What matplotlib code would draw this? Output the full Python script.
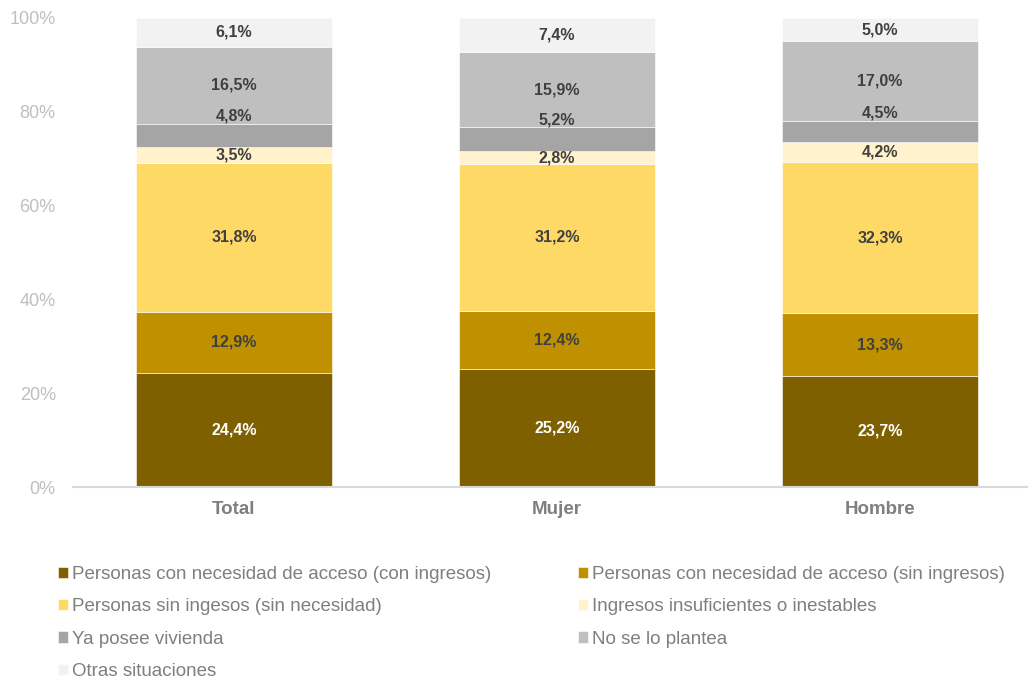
import matplotlib
matplotlib.use("Agg")
import matplotlib.pyplot as plt
import numpy as np

plt.rcParams["font.family"] = ["Liberation Sans", "DejaVu Sans"]

categories = ["Total", "Mujer", "Hombre"]
series_names = [
    "Personas con necesidad de acceso (con ingresos)",
    "Personas con necesidad de acceso (sin ingresos)",
    "Personas sin ingesos (sin necesidad)",
    "Ingresos insuficientes o inestables",
    "Ya posee vivienda",
    "No se lo plantea",
    "Otras situaciones",
]
con_ingresos = [24.4, 25.2, 23.7]
sin_ingresos = [12.9, 12.4, 13.3]
sin_necesidad = [31.8, 31.2, 32.3]
insuficientes = [3.5, 2.8, 4.2]
ya_posee = [4.8, 5.2, 4.5]
no_plantea = [16.5, 15.9, 17.0]
otras = [6.1, 7.4, 5.0]
values = [con_ingresos, sin_ingresos, sin_necesidad, insuficientes,
          ya_posee, no_plantea, otras]

colors = ["#7F6000", "#BF9000", "#FFD966", "#FFF2CC",
          "#A5A5A5", "#BFBFBF", "#F2F2F2"]
label_colors = ["white"] + ["#404040"] * 6

fig = plt.figure(figsize=(10.28, 6.82), dpi=100)
ax = fig.add_axes([72.5 / 1028, 1 - 487 / 682, 969 / 1028, 469 / 682])

x = np.arange(len(categories))
bottom = np.zeros(len(categories))
handles = []
for i, (name, vals) in enumerate(zip(series_names, values)):
    vals = np.array(vals)
    bars = ax.bar(x, vals, width=0.607, bottom=bottom, color=colors[i],
                  edgecolor="white", linewidth=0.4, label=name)
    handles.append(bars)
    for xi, b, v in zip(x, bottom, vals):
        y = b + v / 2
        if i == 4:
            # lift the small "Ya posee vivienda" labels above their segment
            y += 4.0
        ax.text(xi, y, f"{v:.1f}%".replace(".", ","), ha="center",
                va="center", fontsize=11.5, fontweight="bold",
                color=label_colors[i])
    bottom += vals

ax.set_xlim(-0.5, 2.5)
ax.set_ylim(0, 100)
ax.set_yticks(np.arange(0, 101, 20))
ax.set_yticklabels([f"{t}%" for t in range(0, 101, 20)])
ax.set_xticks(x)
ax.set_xticklabels(categories, fontsize=13.5, fontweight="bold",
                   color="#7F7F7F")
ax.tick_params(axis="y", length=0, labelsize=13, labelcolor="#BFBFBF",
               pad=12)
ax.tick_params(axis="x", length=0, pad=10)
for side in ["left", "right", "top"]:
    ax.spines[side].set_visible(False)
ax.spines["bottom"].set_color("#D9D9D9")
ax.spines["bottom"].set_linewidth(1.5)

order = [0, 2, 4, 6, 1, 3, 5]
leg = fig.legend([handles[k] for k in order], [series_names[k] for k in order],
                 loc="upper left", bbox_to_anchor=(58 / 1028, 1 - 566 / 682),
                 ncol=2, frameon=False, fontsize=13.5, borderpad=0,
                 borderaxespad=0, handlelength=0.55, handleheight=0.55,
                 handletextpad=0.22, labelspacing=0.82, columnspacing=4.6)
for t in leg.get_texts():
    t.set_color("#7F7F7F")

fig.savefig("out.png", dpi=100)
